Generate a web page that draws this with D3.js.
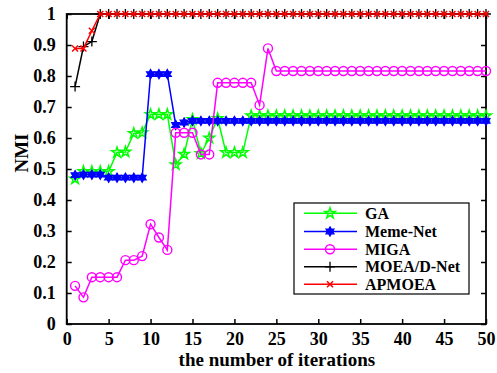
<!DOCTYPE html>
<html>
<head>
<meta charset="utf-8">
<script src="https://cdn.jsdelivr.net/npm/d3@7"></script>
<style>
  body { margin: 0; background: #fff; }
  text { font-family: 'Liberation Serif', 'Times New Roman', serif; font-weight: bold; fill: #000; }
</style>
</head>
<body>
<div id="chart"></div>
<script>
// data, one value per iteration (1..50)
const iterations = [1, 2, 3, 4, 5, 6, 7, 8, 9, 10, 11, 12, 13, 14, 15, 16, 17, 18, 19, 20,
  21, 22, 23, 24, 25, 26, 27, 28, 29, 30, 31, 32, 33, 34, 35, 36, 37, 38, 39, 40,
  41, 42, 43, 44, 45, 46, 47, 48, 49, 50]

const gaValues = [0.468, 0.492, 0.492, 0.492, 0.492, 0.553, 0.555, 0.615, 0.617, 0.676,
  0.676, 0.676, 0.514, 0.548, 0.660, 0.550, 0.600, 0.663, 0.553, 0.553,
  0.553, 0.672, 0.672, 0.672, 0.672, 0.672, 0.672, 0.672, 0.672, 0.672,
  0.672, 0.672, 0.672, 0.672, 0.672, 0.672, 0.672, 0.672, 0.672, 0.672,
  0.672, 0.672, 0.672, 0.672, 0.672, 0.672, 0.672, 0.672, 0.672, 0.672]

const memeNetValues = [0.480, 0.482, 0.482, 0.482, 0.472, 0.472, 0.472, 0.472, 0.472, 0.806,
  0.806, 0.806, 0.642, 0.650, 0.655, 0.655, 0.655, 0.655, 0.655, 0.655,
  0.655, 0.655, 0.655, 0.655, 0.655, 0.655, 0.655, 0.655, 0.655, 0.655,
  0.655, 0.655, 0.655, 0.655, 0.655, 0.655, 0.655, 0.655, 0.655, 0.655,
  0.655, 0.655, 0.655, 0.655, 0.655, 0.655, 0.655, 0.655, 0.655, 0.655]

const migaValues = [0.123, 0.086, 0.151, 0.151, 0.151, 0.151, 0.206, 0.206, 0.219, 0.322,
  0.279, 0.239, 0.617, 0.617, 0.617, 0.547, 0.547, 0.778, 0.778, 0.778,
  0.778, 0.778, 0.706, 0.889, 0.816, 0.816, 0.816, 0.816, 0.816, 0.816,
  0.816, 0.816, 0.816, 0.816, 0.816, 0.816, 0.816, 0.816, 0.816, 0.816,
  0.816, 0.816, 0.816, 0.816, 0.816, 0.816, 0.816, 0.816, 0.816, 0.816]

const moeadValues = [0.766, 0.895, 0.911, 1, 1, 1, 1, 1, 1, 1,
  1, 1, 1, 1, 1, 1, 1, 1, 1, 1,
  1, 1, 1, 1, 1, 1, 1, 1, 1, 1,
  1, 1, 1, 1, 1, 1, 1, 1, 1, 1,
  1, 1, 1, 1, 1, 1, 1, 1, 1, 1]

const apmoeaValues = [0.889, 0.889, 0.946, 1, 1, 1, 1, 1, 1, 1,
  1, 1, 1, 1, 1, 1, 1, 1, 1, 1,
  1, 1, 1, 1, 1, 1, 1, 1, 1, 1,
  1, 1, 1, 1, 1, 1, 1, 1, 1, 1,
  1, 1, 1, 1, 1, 1, 1, 1, 1, 1]

const seriesNames = ['GA', 'Meme-Net', 'MIGA', 'MOEA/D-Net', 'APMOEA']
const seriesValues = [gaValues, memeNetValues, migaValues, moeadValues, apmoeaValues]
const seriesColors = ['#00ff00', '#0000ff', '#ff00ff', '#000000', '#ff0000']
const seriesMarkers = ['star', 'hexagram', 'circle', 'plus', 'cross']

const xTicks = [0, 5, 10, 15, 20, 25, 30, 35, 40, 45, 50]
const yTicks = [0, 0.1, 0.2, 0.3, 0.4, 0.5, 0.6, 0.7, 0.8, 0.9, 1]

const width = 497
const height = 373
const plot = { left: 66.7, right: 486, top: 14, bottom: 324 }

const svg = d3.select('#chart').append('svg')
  .attr('width', width)
  .attr('height', height)

const x = d3.scaleLinear().domain([0, 50]).range([plot.left, plot.right])
const y = d3.scaleLinear().domain([0, 1]).range([plot.bottom, plot.top])

// six pointed star used by matlab's 'h' marker
function hexagram(r) {
  const p = d3.path()
  for (let k = 0; k < 2; k++) {
    for (let i = 0; i < 3; i++) {
      const a = -Math.PI / 2 + k * Math.PI + i * 2 * Math.PI / 3
      const px = r * Math.cos(a)
      const py = r * Math.sin(a)
      if (i === 0) p.moveTo(px, py)
      else p.lineTo(px, py)
    }
    p.closePath()
  }
  return p.toString()
}

function drawMarker(g, type, color) {
  if (type === 'star') {
    g.append('path')
      .attr('d', d3.symbol(d3.symbolStar, 34)())
      .attr('fill', 'none')
      .attr('stroke', color)
      .attr('stroke-width', 1.5)
  } else if (type === 'hexagram') {
    g.append('path')
      .attr('d', hexagram(4.6))
      .attr('fill', color)
      .attr('stroke', color)
      .attr('stroke-width', 1.2)
  } else if (type === 'circle') {
    g.append('circle')
      .attr('r', 4.5)
      .attr('fill', 'none')
      .attr('stroke', color)
      .attr('stroke-width', 1.4)
  } else if (type === 'plus') {
    g.append('path')
      .attr('d', 'M-5,0H5M0,-5V5')
      .attr('stroke', color)
      .attr('stroke-width', 1.3)
  } else if (type === 'cross') {
    g.append('path')
      .attr('d', 'M-3,-3L3,3M-3,3L3,-3')
      .attr('stroke', color)
      .attr('stroke-width', 1.5)
  }
}

// axes box and ticks
const axisG = svg.append('g')

axisG.append('g')
  .attr('transform', `translate(0,${plot.bottom})`)
  .call(d3.axisBottom(x).tickValues(xTicks).tickSize(-5).tickPadding(8).tickFormat(d3.format('d')))
axisG.append('g')
  .attr('transform', `translate(0,${plot.top})`)
  .call(d3.axisTop(x).tickValues(xTicks).tickSize(-5).tickFormat(''))
axisG.append('g')
  .attr('transform', `translate(${plot.left},0)`)
  .call(d3.axisLeft(y).tickValues(yTicks).tickSize(-5).tickPadding(11).tickFormat(d => d === 0 || d === 1 ? d3.format('d')(d) : d3.format('.1f')(d)))
axisG.append('g')
  .attr('transform', `translate(${plot.right},0)`)
  .call(d3.axisRight(y).tickValues(yTicks).tickSize(-5).tickFormat(''))

axisG.selectAll('.domain').remove()
axisG.selectAll('.tick line').attr('stroke', '#000').attr('stroke-width', 1.5)
axisG.selectAll('.tick text')
  .style('font-family', "'Liberation Serif', serif")
  .style('font-weight', 'bold')
  .style('font-size', '18px')
  .attr('fill', '#000')

axisG.append('rect')
  .attr('x', plot.left)
  .attr('y', plot.top)
  .attr('width', plot.right - plot.left)
  .attr('height', plot.bottom - plot.top)
  .attr('fill', 'none')
  .attr('stroke', '#000')
  .attr('stroke-width', 1.8)

// series
const line = d3.line()
  .x((d, i) => x(iterations[i]))
  .y(d => y(d))

seriesValues.forEach((values, s) => {
  const g = svg.append('g')
  g.append('path')
    .datum(values)
    .attr('d', line)
    .attr('fill', 'none')
    .attr('stroke', seriesColors[s])
    .attr('stroke-width', 1.5)
  values.forEach((v, i) => {
    const m = g.append('g').attr('transform', `translate(${x(iterations[i])},${y(v)})`)
    drawMarker(m, seriesMarkers[s], seriesColors[s])
  })
})

// axis titles
svg.append('text')
  .attr('x', (plot.left + plot.right) / 2 + 0.5)
  .attr('y', 366)
  .attr('text-anchor', 'middle')
  .style('font-size', '19px')
  .text('the number of iterations')

svg.append('text')
  .attr('transform', 'translate(28,153) rotate(-90)')
  .attr('text-anchor', 'middle')
  .style('font-size', '19px')
  .text('NMI')

// legend
const legend = svg.append('g')
legend.append('rect')
  .attr('x', 294)
  .attr('y', 203)
  .attr('width', 175)
  .attr('height', 91)
  .attr('fill', '#fff')
  .attr('stroke', '#000')
  .attr('stroke-width', 1.2)

const legendRows = [213.3, 231.5, 249.3, 266.8, 284.2]
seriesNames.forEach((name, s) => {
  const ly = legendRows[s]
  legend.append('line')
    .attr('x1', 304).attr('x2', 357)
    .attr('y1', ly).attr('y2', ly)
    .attr('stroke', seriesColors[s])
    .attr('stroke-width', 1.5)
  drawMarker(legend.append('g').attr('transform', `translate(330,${ly})`), seriesMarkers[s], seriesColors[s])
  legend.append('text')
    .attr('x', 365)
    .attr('y', ly + 5.5)
    .style('font-size', '16px')
    .text(name)
})
</script>
</body>
</html>
